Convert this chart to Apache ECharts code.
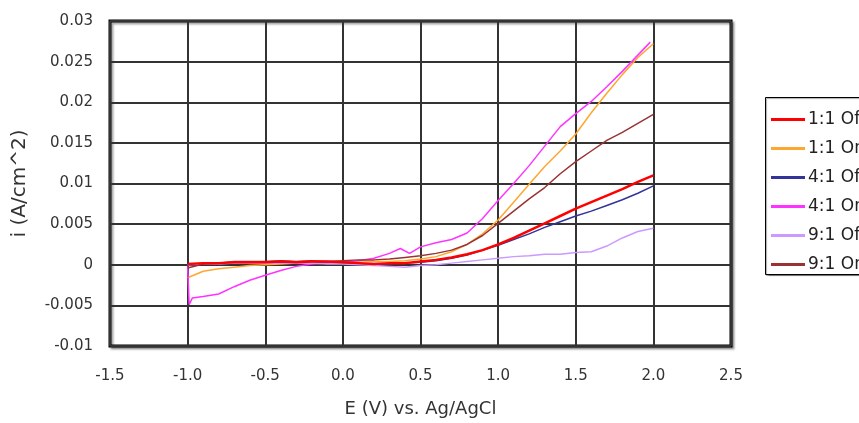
<!DOCTYPE html>
<html>
<head>
<meta charset="utf-8">
<script src="https://cdn.jsdelivr.net/npm/echarts@6/dist/echarts.min.js"></script>
<style>html,body{margin:0;padding:0;background:#fff}#c{width:859px;height:423px}</style>
</head>
<body>
<div id="c"></div>
<script>
const seriesNames = ['1:1 Off', '1:1 On', '4:1 Off', '4:1 On', '9:1 Off', '9:1 On'];
const xTickLabels = ['-1.5', '-1.0', '-0.5', '0.0', '0.5', '1.0', '1.5', '2.0', '2.5'];
const yTickLabels = ['-0.01', '-0.005', '0', '0.005', '0.01', '0.015', '0.02', '0.025', '0.03'];

const E = [-1.0,-0.9,-0.8,-0.7,-0.6,-0.5,-0.4,-0.3,-0.2,-0.1,0.0,0.1,0.2,0.3,0.4,0.5,0.6,0.7,0.8,0.9,1.0,1.1,1.2,1.3,1.4,1.5,1.6,1.7,1.8,1.9,2.0];
const off11 = [0.0001,0.0002,0.0002,0.0003,0.0003,0.0003,0.0004,0.0003,0.0004,0.0004,0.0003,0.0002,0.0001,0.0002,0.0002,0.0004,0.0006,0.0009,0.0013,0.0018,0.0025,0.0033,0.0042,0.0051,0.0060,0.0069,0.0077,0.0085,0.0093,0.0102,0.0110];
const on11 = [-0.0016,-0.0008,-0.0005,-0.0003,-0.0001,0.0000,0.0001,0.0002,0.0002,0.0003,0.0003,0.0003,0.0004,0.0004,0.0005,0.0007,0.0010,0.0016,0.0025,0.0038,0.0055,0.0077,0.0099,0.0121,0.0140,0.0161,0.0187,0.0211,0.0234,0.0255,0.0272];
const off41 = [-0.0001,0.0001,0.0001,0.0002,0.0002,0.0003,0.0003,0.0003,0.0002,0.0003,0.0002,0.0001,0.0000,0.0001,0.0002,0.0003,0.0005,0.0008,0.0012,0.0018,0.0024,0.0031,0.0038,0.0046,0.0053,0.0060,0.0066,0.0073,0.0080,0.0088,0.0097];
const off91 = [0.0000,0.0001,0.0001,0.0002,0.0002,0.0002,0.0002,0.0002,0.0002,0.0001,0.0001,0.0000,-0.0001,-0.0002,-0.0003,-0.0001,0.0000,0.0002,0.0004,0.0006,0.0008,0.0010,0.0011,0.0013,0.0013,0.0015,0.0016,0.0023,0.0033,0.0041,0.0045];
const on91 = [-0.0004,0.0001,0.0002,0.0004,0.0004,0.0004,0.0005,0.0004,0.0005,0.0004,0.0005,0.0006,0.0006,0.0007,0.0009,0.0011,0.0014,0.0018,0.0025,0.0036,0.0051,0.0066,0.0081,0.0095,0.0112,0.0127,0.0140,0.0153,0.0163,0.0174,0.0185];

const E41on = [-1.0,-0.99,-0.97,-0.9,-0.8,-0.7,-0.6,-0.5,-0.4,-0.3,-0.2,-0.1,0.0,0.1,0.2,0.3,0.37,0.43,0.5,0.6,0.7,0.8,0.9,1.0,1.1,1.2,1.3,1.4,1.5,1.6,1.7,1.8,1.9,1.98];
const on41 = [-0.0002,-0.0049,-0.0041,-0.0039,-0.0036,-0.0027,-0.0019,-0.0013,-0.0007,-0.0002,0.0001,0.0002,0.0003,0.0005,0.0008,0.0014,0.0020,0.0014,0.0022,0.0027,0.0031,0.0039,0.0057,0.0079,0.0100,0.0122,0.0146,0.0170,0.0186,0.0201,0.0219,0.0238,0.0258,0.0274];

const pair = (xs, ys) => xs.map((x, k) => [x, ys[k]]);

const colors = ['#ff0000', '#ffa62f', '#333399', '#ff33ff', '#cc99ff', '#993333'];
const widths = [2.5, 1.5, 1.5, 1.5, 1.5, 1.5];
const datas = [pair(E, off11), pair(E, on11), pair(E, off41), pair(E41on, on41), pair(E, off91), pair(E, on91)];

const font = 'DejaVu Sans';
const chart = echarts.init(document.getElementById('c'), null, {renderer: 'canvas'});
chart.setOption({
  backgroundColor: '#fff',
  animation: false,
  graphic: [{
    type: 'rect', left: 765, top: 97, z: -1,
    shape: {width: 120, height: 177},
    style: {fill: '#fff', stroke: '#000', lineWidth: 1,
      shadowColor: 'rgba(0,0,0,0.35)', shadowBlur: 1, shadowOffsetX: 1, shadowOffsetY: 1}
  }],
  grid: {
    left: 110, top: 21, right: 128, bottom: 74,
    show: true, borderWidth: 3, borderColor: '#000', backgroundColor: '#fff',
    shadowColor: 'rgba(0,0,0,0.35)', shadowBlur: 2, shadowOffsetX: 2, shadowOffsetY: 2
  },
  legend: {
    orient: 'vertical', left: 765, top: 97, z: 10,
    data: seriesNames.map((n, k) => ({name: n, icon: 'rect', itemStyle: {color: colors[k]}})),
    itemWidth: 34, itemHeight: 3, itemGap: 12,
    padding: [14, 40, 5, 6],
    borderWidth: 0,
    textStyle: {fontFamily: font, fontSize: 17, color: '#222', padding: [0, 0, 0, -2]}
  },
  xAxis: {
    type: 'value', min: -1.5, max: 2.5, interval: 0.5,
    name: 'E (V) vs. Ag/AgCl', nameLocation: 'middle', nameGap: 54,
    nameTextStyle: {fontFamily: font, fontSize: 18, color: '#333'},
    axisLine: {show: false}, axisTick: {show: false},
    axisLabel: {fontFamily: font, fontSize: 15, color: '#333', margin: 23,
      formatter: v => xTickLabels[Math.round((v + 1.5) / 0.5)]},
    splitLine: {show: true, lineStyle: {color: '#333', width: 2}}
  },
  yAxis: {
    type: 'value', min: -0.01, max: 0.03, interval: 0.005,
    name: 'i (A/cm^2)', nameLocation: 'middle', nameGap: 80, nameRotate: 90,
    nameTextStyle: {fontFamily: font, fontSize: 20, color: '#333'},
    axisLine: {show: false}, axisTick: {show: false},
    axisLabel: {fontFamily: font, fontSize: 15, color: '#333', margin: 17,
      formatter: v => yTickLabels[Math.round((v + 0.01) / 0.005)]},
    splitLine: {show: true, lineStyle: {color: '#333', width: 2}}
  },
  series: seriesNames.map((n, k) => ({
    name: n, type: 'line', data: datas[k], symbol: 'none', showSymbol: false,
    lineStyle: {color: colors[k], width: widths[k]}, itemStyle: {color: colors[k]},
    z: k === 0 ? 5 : 3
  }))
});
</script>
</body>
</html>
